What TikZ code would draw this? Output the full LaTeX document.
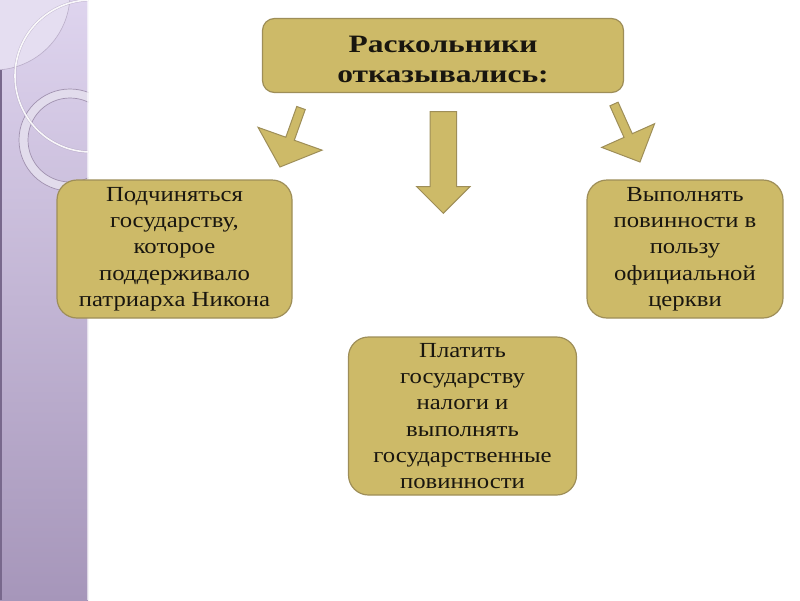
\documentclass[tikz,border=0pt]{standalone}
\usepackage{fontspec}
\setmainfont{Liberation Serif}
\newfontfamily\bodyfont[FakeStretch=1.15]{Liberation Serif}
\newfontfamily\headfont[FakeStretch=1.26]{Liberation Serif}
\usetikzlibrary{calc}
\definecolor{boxfill}{RGB}{205,186,104}
\definecolor{boxedge}{RGB}{158,142,88}
\definecolor{bandtop}{RGB}{222,212,238}
\definecolor{bandmid}{RGB}{206,192,226}
\definecolor{bandbot}{RGB}{166,150,186}
\definecolor{bandlight}{RGB}{229,222,241}
\definecolor{ringfill}{RGB}{226,220,236}
\definecolor{ringedge}{RGB}{160,145,175}
\definecolor{bandline}{RGB}{120,104,140}
\definecolor{textcol}{RGB}{25,22,15}
\tikzset{
  box/.style={draw=boxedge, line width=1.2pt, fill=boxfill, align=center, inner sep=0pt, text=textcol,
    font=\bodyfont\fontsize{21.5pt}{26.3pt}\selectfont},
  headtext/.style={align=center, inner sep=0pt, text=textcol,
    font=\headfont\bfseries\fontsize{25pt}{30pt}\selectfont},
  blockarrow/.style={draw=boxedge, line width=1pt, fill=boxfill, line join=miter}
}
\newcommand\blkarrow[6]{%
  \coordinate (#1t) at (#2);
  \coordinate (#1p) at (#3);
  \coordinate (#1h) at ($(#1p)!#6!(#1t)$);
  \filldraw[blockarrow] ($(#1t)!#4!90:(#1p)$) -- ($(#1h)!#4!90:(#1p)$) -- ($(#1h)!#5!90:(#1p)$)
    -- (#1p) -- ($(#1h)!#5!-90:(#1p)$) -- ($(#1h)!#4!-90:(#1p)$) -- ($(#1t)!#4!-90:(#1p)$) -- cycle;
}
\begin{document}
\begin{tikzpicture}[x=1pt,y=-1pt]
\useasboundingbox (0,0) rectangle (800,600);
\fill[white] (0,0) rectangle (800,600);
% left decorative band
\begin{scope}
  \clip (0,0) rectangle (88,600);
  \shade[top color=bandtop, middle color=bandmid, bottom color=bandbot] (0,0) rectangle (88,600);
  \fill[bandlight] (-6,-6) circle (76pt);
  \draw[ringedge, line width=0.6pt, opacity=0.6] (-6,-6) circle (76pt);
  \fill[ringfill, even odd rule] (70,140) circle (51pt) (70,140) circle (42pt);
  \draw[ringedge, line width=0.7pt] (70,140) circle (51pt);
  \draw[ringedge, line width=0.7pt] (70,140) circle (42pt);
  \draw[ringedge, line width=2.6pt, opacity=0.45] (91,76) circle (76pt);
  \draw[white, line width=1.6pt, opacity=0.9] (91,76) circle (76pt);
  \draw[bandline, line width=2pt] (1,70) -- (1,600);
  \draw[white, line width=0.8pt, opacity=0.6] (87.6,0) -- (87.6,600);
\end{scope}
% boxes
\node[box, minimum width=361pt, minimum height=74pt, rounded corners=12pt] (top) at (443,55.5) {};
\node[headtext] (toptext) at ($(top.center)+(0,4)$) {Раскольники\\отказывались:};
\node[box, minimum width=235pt, minimum height=138pt, rounded corners=20pt] (left) at (174.5,249)
  {Подчиняться\\государству,\\которое\\поддерживало\\патриарха Никона};
\node[box, minimum width=196pt, minimum height=138pt, rounded corners=20pt] (right) at (685,249)
  {Выполнять\\повинности в\\пользу\\официальной\\церкви};
\node[box, minimum width=228pt, minimum height=158pt, rounded corners=20pt] (bottom) at (462.5,416)
  {Платить\\государству\\налоги и\\выполнять\\государственные\\повинности};
% block arrows
\blkarrow{la}{301,108}{280,167}{4.5pt}{34pt}{30pt}
\blkarrow{ca}{443.3,111.7}{443.3,213.3}{13.3pt}{26.7pt}{26.7pt}
\blkarrow{ra}{614,104}{640,162}{4.5pt}{29pt}{29pt}
\end{tikzpicture}
\end{document}
